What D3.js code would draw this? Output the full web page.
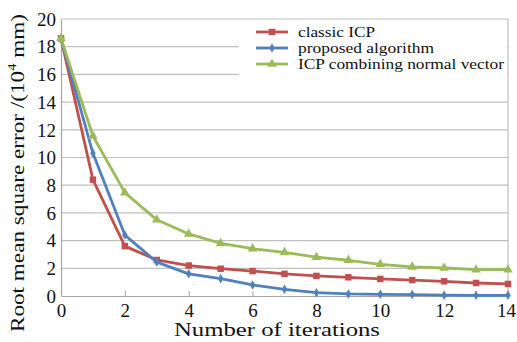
<!DOCTYPE html>
<html lang="en">
  <head>
    <meta charset="UTF-8" />
    <title>RMSE vs iterations</title>
    <script src="https://cdnjs.cloudflare.com/ajax/libs/d3/7.8.5/d3.min.js"></script>
    <style>
      body { margin: 0; background: #fff; }
      text { font-family: "Liberation Serif", "Times New Roman", serif; fill: #111; }
    </style>
  </head>
  <body>
    <div id="chart"></div>
    <script>
      /** Data */
      const iterations = [0, 1, 2, 3, 4, 5, 6, 7, 8, 9, 10, 11, 12, 13, 14];
      const classicICP = [18.6, 8.4, 3.6, 2.6, 2.2, 1.97, 1.8, 1.6, 1.45, 1.35, 1.23, 1.15, 1.06, 0.94, 0.87];
      const proposed = [18.6, 10.3, 4.4, 2.45, 1.6, 1.25, 0.8, 0.48, 0.24, 0.15, 0.12, 0.1, 0.06, 0.05, 0.05];
      const normalICP = [18.6, 11.55, 7.46, 5.5, 4.48, 3.8, 3.42, 3.15, 2.8, 2.58, 2.29, 2.1, 2.02, 1.9, 1.9];
      const seriesNames = ["classic ICP", "proposed algorithm", "ICP combining normal vector"];
      const xTicks = [0, 2, 4, 6, 8, 10, 12, 14];
      const yTicks = [0, 2, 4, 6, 8, 10, 12, 14, 16, 18, 20];

      /** Graph configs */
      const width = 517;
      const height = 342;
      const margin = { top: 19, right: 9, bottom: 46, left: 61 };
      const colors = ["#c0504d", "#4f81bd", "#9bbb59"];
      const grid = "#bfbfbf";
      const font = "Liberation Serif, serif";
      const legendWidths = [77, 136, 206]; // stretch the narrow Times glyphs to the original's width

      const xScale = d3.scaleLinear().domain([0, 14]).range([margin.left, width - margin.right]);
      const yScale = d3.scaleLinear().domain([0, 20]).range([height - margin.bottom, margin.top]);

      const svg = d3.select("#chart").append("svg")
        .attr("width", width)
        .attr("height", height);

      /** Gridlines */
      svg.append("g")
        .selectAll("line")
        .data(yTicks.slice(1))
        .enter()
        .append("line")
        .attr("x1", margin.left)
        .attr("x2", width - margin.right)
        .attr("y1", (d) => yScale(d))
        .attr("y2", (d) => yScale(d))
        .attr("stroke", grid)
        .attr("stroke-width", 1.2);

      /** Right border */
      svg.append("line")
        .attr("x1", xScale(14)).attr("x2", xScale(14))
        .attr("y1", yScale(20)).attr("y2", yScale(0))
        .attr("stroke", grid).attr("stroke-width", 1.2);

      /** Axes */
      const xAxis = d3.axisBottom(xScale).tickValues(xTicks).tickSizeInner(-5).tickSizeOuter(0).tickPadding(9);
      const yAxis = d3.axisLeft(yScale).tickValues(yTicks).tickSize(0).tickPadding(5);

      const gx = svg.append("g")
        .attr("transform", `translate(0, ${yScale(0)})`)
        .call(xAxis);
      const gy = svg.append("g")
        .attr("transform", `translate(${margin.left}, 0)`)
        .call(yAxis);

      [gx, gy].forEach((g) => {
        g.attr("font-family", font);
        g.select(".domain").attr("stroke", "#a6a6a6").attr("stroke-width", 1.2);
        g.selectAll(".tick line").attr("stroke", "#a6a6a6");
        g.selectAll("text").attr("font-size", 19).attr("fill", "#111");
      });
      gy.selectAll("text").attr("dy", "0.33em");
      gx.selectAll("text").attr("dy", "0.62em");
      gx.selectAll(".tick:last-of-type text").attr("dx", -2);

      /** Lines and markers */
      const allSeries = [classicICP, proposed, normalICP];
      const line = d3.line()
        .x((d, i) => xScale(iterations[i]))
        .y((d) => yScale(d));

      const symbols = [
        d3.symbol().type(d3.symbolSquare).size(42),
        d3.symbol().type(d3.symbolDiamond).size(26),
        d3.symbol().type(d3.symbolTriangle).size(40),
      ];

      allSeries.forEach((values, s) => {
        svg.append("path")
          .datum(values)
          .attr("fill", "none")
          .attr("stroke", colors[s])
          .attr("stroke-width", 2.8)
          .attr("stroke-linejoin", "round")
          .attr("d", line);
        svg.append("g")
          .selectAll("path")
          .data(values)
          .enter()
          .append("path")
          .attr("d", symbols[s])
          .attr("fill", colors[s])
          .attr("transform", (d, i) => `translate(${xScale(iterations[i])}, ${yScale(d)})`);
      });

      /** Legend */
      const legend = svg.append("g");
      legend.append("rect")
        .attr("x", 239)
        .attr("y", yScale(20) + 1)
        .attr("width", xScale(14) - 239 - 1)
        .attr("height", 74)
        .attr("fill", "#fff");
      seriesNames.forEach((name, s) => {
        const y = 32 + s * 16;
        legend.append("line")
          .attr("x1", 256).attr("x2", 288)
          .attr("y1", y).attr("y2", y)
          .attr("stroke", colors[s]).attr("stroke-width", 2.8);
        legend.append("path")
          .attr("d", symbols[s])
          .attr("fill", colors[s])
          .attr("transform", `translate(272, ${y})`);
        legend.append("text")
          .attr("x", 298)
          .attr("y", y)
          .attr("dy", "0.32em")
          .attr("font-size", 15.5)
          .attr("textLength", legendWidths[s])
          .attr("lengthAdjust", "spacingAndGlyphs")
          .text(name);
      });

      /** Axis titles */
      svg.append("text")
        .attr("x", 277)
        .attr("y", 336)
        .attr("text-anchor", "middle")
        .attr("font-size", 19)
        .attr("textLength", 206)
        .attr("lengthAdjust", "spacingAndGlyphs")
        .text("Number of iterations");

      const yTitle = svg.append("text")
        .attr("transform", `translate(24, 173) rotate(-90)`)
        .attr("text-anchor", "middle")
        .attr("font-size", 19)
        .attr("textLength", 318)
        .attr("lengthAdjust", "spacingAndGlyphs");
      yTitle.append("tspan").text("Root mean square error /(10");
      yTitle.append("tspan").attr("font-size", 12).attr("dy", -8).text("4");
      yTitle.append("tspan").attr("dy", 8).text(" mm)");
    </script>
  </body>
</html>
